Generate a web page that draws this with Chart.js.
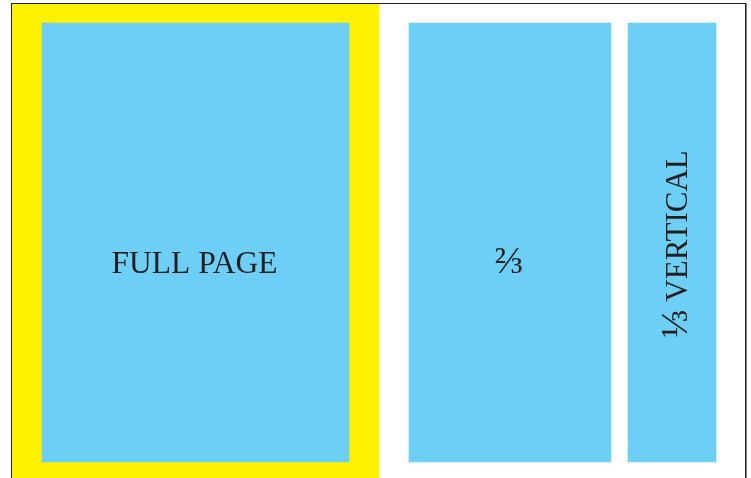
<!DOCTYPE html>
<html>
<head>
<meta charset="utf-8">
<script src="https://cdn.jsdelivr.net/npm/chart.js@4"></script>
<style>
  html, body { margin: 0; padding: 0; background: #fff; }
  #wrap { position: relative; width: 751px; height: 478px; overflow: hidden; }
  #frame {
    position: absolute; left: 11px; top: 3px; width: 733px; height: 600px;
    border: 1px solid #231f20; box-shadow: 1px 0 0 #8c8c8c;
    pointer-events: none;
  }
</style>
</head>
<body>
<div id="wrap">
  <canvas id="sizes" width="751" height="478"></canvas>
  <div id="frame"></div>
</div>
<script>
// ad areas, in page units (0..751 across, 0..478 down)
const adLabels = ['', 'FULL PAGE', '⅔', '⅓ VERTICAL'];
const leftEdge = [12, 42, 409, 628];
const rightEdge = [379, 349, 611, 716];
const topEdge = [4, 23, 23, 23];
const bottomEdge = [478, 462, 462, 462];

const fillColors = ['#fff200', '#6dcff6', '#6dcff6', '#6dcff6'];

const datasets = adLabels.map((name, i) => ({
  label: name || 'BLEED',
  data: [{ x: (leftEdge[i] + rightEdge[i]) / 2, y: [topEdge[i], bottomEdge[i]] }],
  backgroundColor: fillColors[i],
  borderWidth: 0,
  grouped: false,
  order: i === 0 ? 1 : 0, // bleed goes underneath
  // width of each area comes from the x scale
  barThickness: (ctx) => {
    const xs = ctx.chart.scales.x;
    if (!xs) return 1;
    return Math.abs(xs.getPixelForValue(rightEdge[i]) - xs.getPixelForValue(leftEdge[i]));
  }
}));

const serif = '"Liberation Serif", "Times New Roman", serif';
const fractionRe = /^([⅓⅔])(.*)$/;

// fractions are set a bit bigger than the words, like the original
function drawLabel(ctx, text, size) {
  const m = text.match(fractionRe);
  const parts = m ? [[m[1], size * 1.22], [m[2], size]] : [[text, size]];
  let total = 0;
  parts.forEach(p => { ctx.font = p[1] + 'px ' + serif; total += ctx.measureText(p[0]).width; });
  let pos = -total / 2;
  ctx.textAlign = 'left';
  parts.forEach(p => {
    ctx.font = p[1] + 'px ' + serif;
    ctx.fillText(p[0], pos, 0);
    pos += ctx.measureText(p[0]).width;
  });
}

const labelPlugin = {
  id: 'adLabels',
  afterDatasetsDraw(chart) {
    const ctx = chart.ctx;
    ctx.save();
    ctx.fillStyle = '#231f20';
    ctx.textBaseline = 'alphabetic';
    adLabels.forEach((text, i) => {
      if (!text) return;
      const bar = chart.getDatasetMeta(i).data[0];
      const { x, y, base } = bar.getProps(['x', 'y', 'base'], true);
      const mid = (y + base) / 2;
      if (i === 3) {
        ctx.translate(x + 15, mid + 1.5);
        ctx.rotate(-Math.PI / 2);
        drawLabel(ctx, text, 31);
      } else {
        ctx.translate(x - 1, mid + 30.5);
        drawLabel(ctx, text, 31.5);
      }
      ctx.setTransform(1, 0, 0, 1, 0, 0);
    });
    ctx.restore();
  }
};

new Chart(document.getElementById('sizes'), {
  type: 'bar',
  data: { datasets },
  options: {
    responsive: false,
    animation: false,
    layout: { padding: 0 },
    scales: {
      x: { type: 'linear', min: 0, max: 751, offset: false, display: false },
      y: { type: 'linear', min: 0, max: 478, reverse: true, display: false }
    },
    plugins: {
      legend: { display: false },
      tooltip: { enabled: false }
    }
  },
  plugins: [labelPlugin]
});
</script>
</body>
</html>
